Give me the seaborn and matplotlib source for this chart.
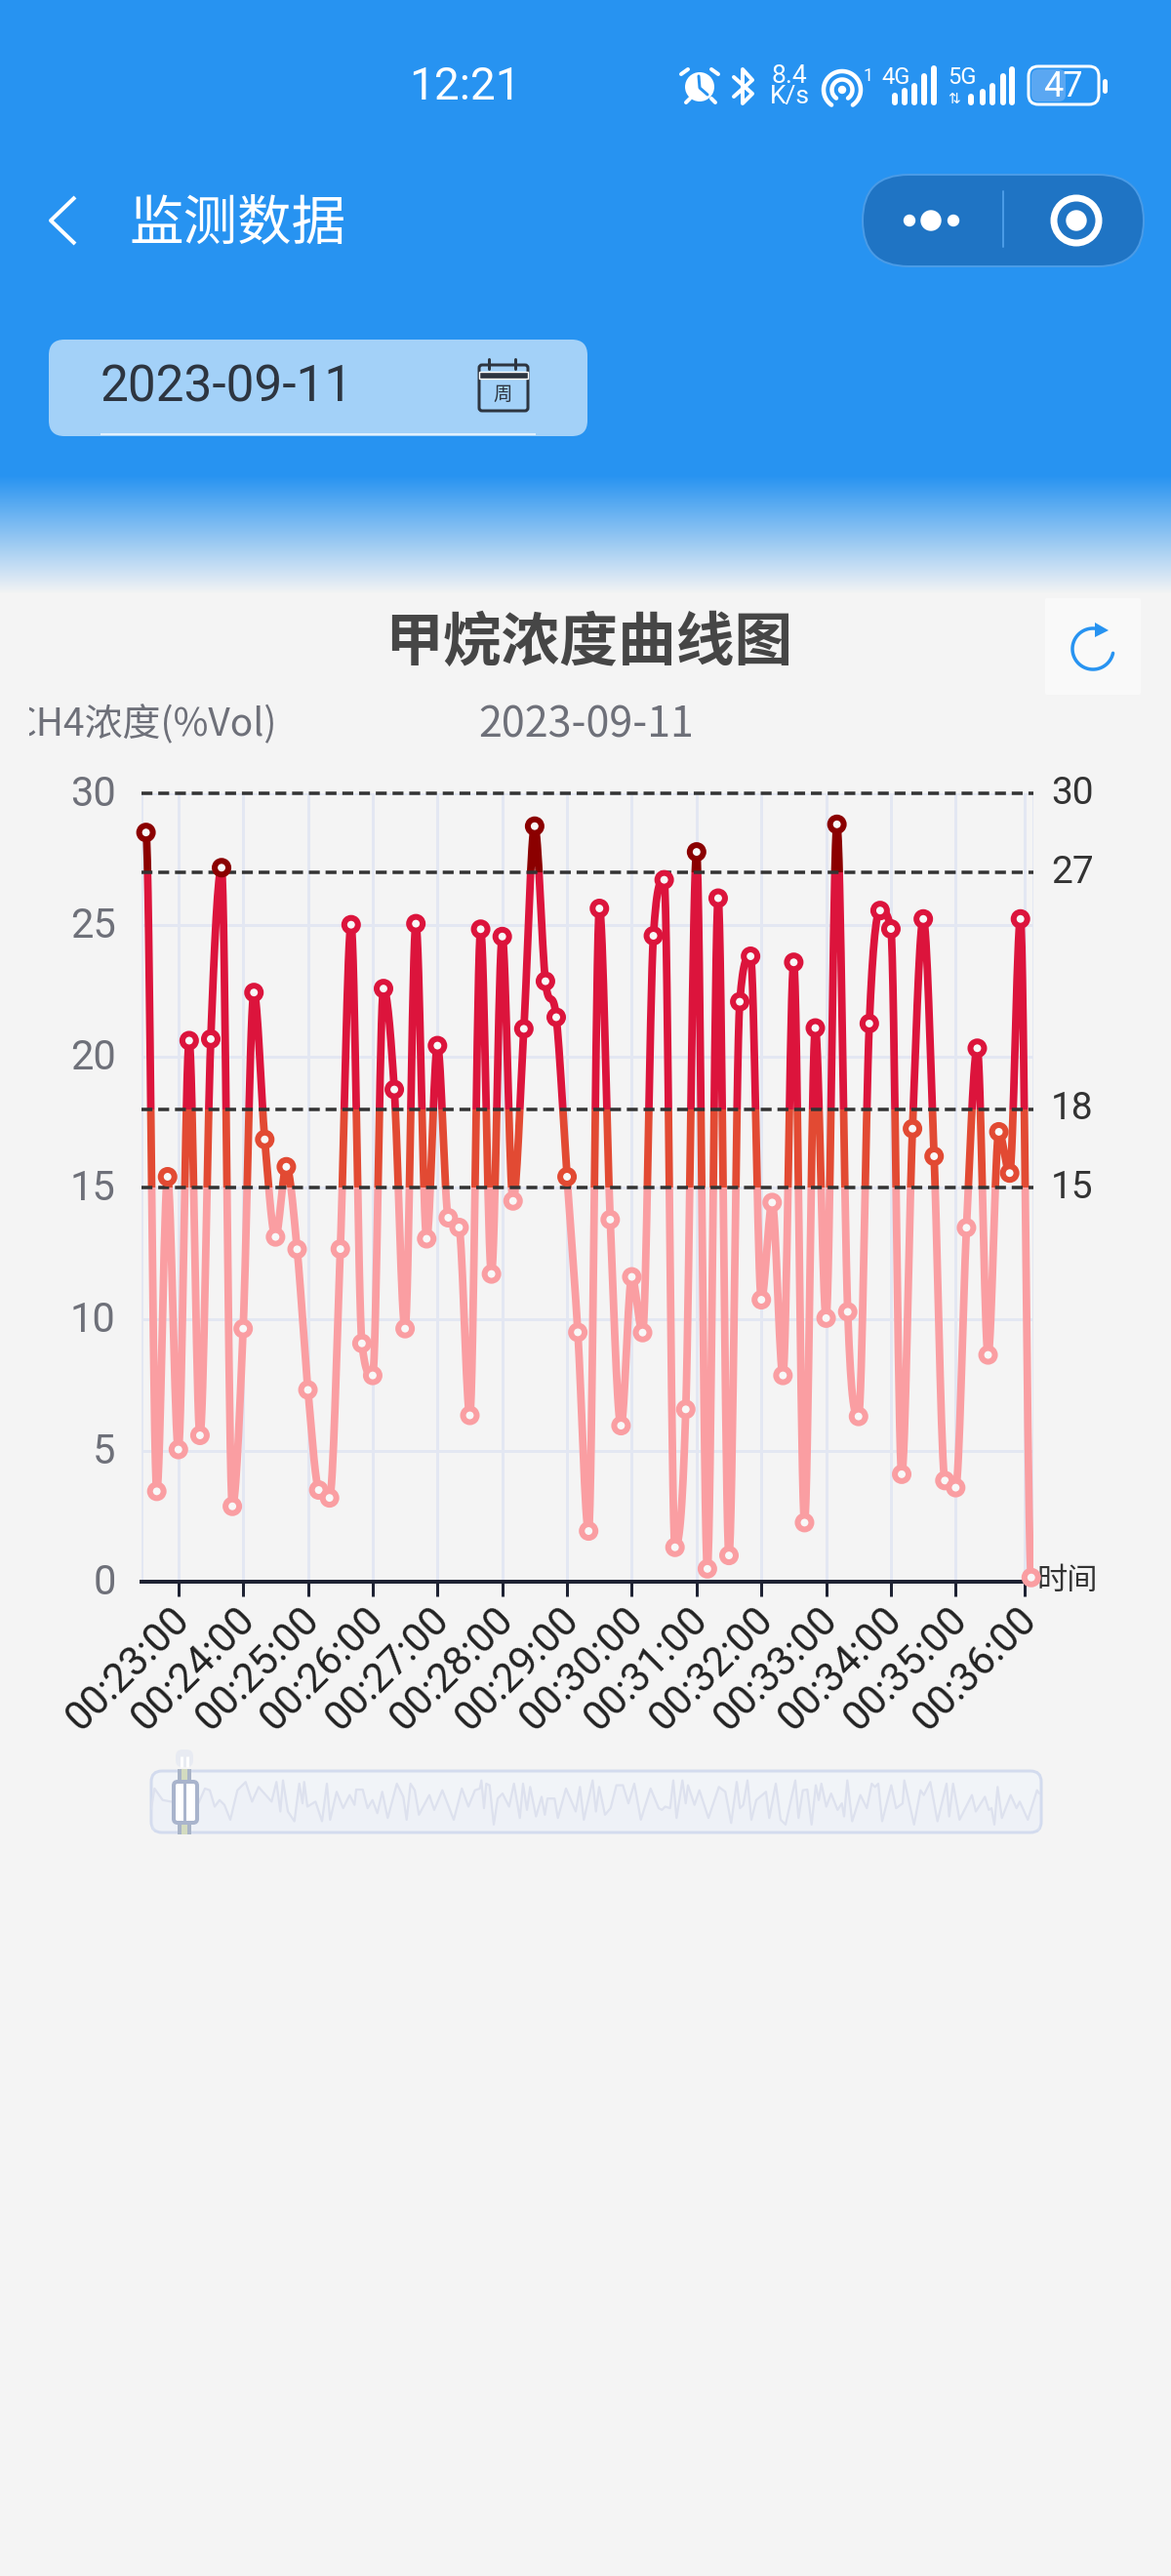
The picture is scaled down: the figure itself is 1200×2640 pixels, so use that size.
import numpy as np
import pandas as pd
import seaborn as sns
import matplotlib
matplotlib.use('Agg')
import matplotlib.pyplot as plt
from matplotlib.patches import Rectangle, FancyBboxPatch, Circle, Polygon
from matplotlib.transforms import ScaledTranslation

# gas readings, one per sample
ch4_values = [28.52, 3.45, 15.42, 5.04, 20.6, 5.58, 20.66, 27.18, 2.88, 9.64,
              22.43, 16.84, 13.13, 15.8, 12.66, 7.31, 3.5, 3.2, 12.67, 25.01,
              9.08, 7.86, 22.58, 18.74, 9.64, 25.05, 13.06, 20.41, 13.86, 13.49,
              6.34, 24.84, 11.72, 24.56, 14.5, 21.05, 28.76, 22.86, 21.49, 15.42,
              9.5, 1.94, 25.63, 13.79, 5.95, 11.61, 9.49, 24.59, 26.72, 1.32,
              6.57, 27.78, 0.5, 26.02, 1.01, 22.08, 23.81, 10.74, 14.44, 7.86,
              23.58, 2.26, 21.08, 10.04, 28.83, 10.28, 6.3, 21.25, 25.55, 24.85,
              4.1, 17.25, 25.23, 16.2, 3.86, 3.59, 13.48, 20.31, 8.64, 17.13,
              15.56, 25.23, 0.17]
time_labels = ['00:%d:00' % m for m in range(23, 37)]
tick_index = [3, 9, 15, 21, 27, 33, 39, 45, 51, 57, 63, 69, 75, 81.4]
thresholds = [15, 18, 27, 30]
band_names = ['low', 'mid', 'high', 'top']
band_colors = ['#fa9ea2', '#e24a33', '#dc143c', '#8b0000']

# whole-day overview in the slider
overview_t = [0, 3.3, 11.7, 20, 48.3, 55, 60, 65, 70, 75, 81, 88.3, 96.7, 103.3, 110, 123.3,
              128.3, 132.3, 135, 140, 146.7, 151.7, 155, 156.7, 160, 168.3, 175, 180, 183.3,
              190, 196.7, 203.3, 208.3, 210, 216.7, 221.7, 226.7, 231.7, 236.7, 242.3, 251.7,
              258.3, 261.7, 265.7, 270, 274.3, 285, 290, 298.3, 310, 318.3, 325, 331.7, 336.7,
              338.3, 341, 343.3, 346.7, 351, 355, 360, 366.7, 371.7, 377.7, 381, 385, 388.3,
              394.3, 400, 403.3, 406, 413.3, 416.7, 425, 435, 439.3, 443.3, 452.3, 455.7, 459,
              465, 470.7, 476.7, 483.3, 489, 495, 501.7, 511.7, 520, 523.3, 526.7, 531.7, 535,
              538.3, 544.3, 547.7, 550, 556.7, 561.7, 571, 581.7, 588.3, 594.3, 600, 603.3,
              606.7, 611, 615, 620, 630, 633.3, 640, 645, 650, 660, 663.3, 667.7, 672.3, 676.7,
              681, 684, 686.7, 691.7, 696.7, 703.3, 707.7, 710, 713.3, 718.3, 726.7, 733.3,
              738.3, 741.7, 745, 749, 758.3, 763.3, 770, 771.7, 781.7, 788.3, 791.7, 798.3,
              805.7, 815, 817.7, 821.7, 828.3, 841, 845, 854.3, 858.3, 861, 864, 867.3, 871.7,
              880.7, 886.7, 890, 898.3, 907.7, 910]
overview_v = [12, 23.8, 17.1, 16.2, 15.2, 23.8, 22.8, 13.3, 17.1, 14.3, 5.7, 22.8, 27.6, 16.2, 24.7, 16.2,
              27.6, 10.5, 28.5, 10.5, 4.8, 26.6, 15.2, 27.6, 13.3, 16.2, 4.8, 26.6, 5.7,
              21.9, 12.4, 20, 14.3, 23.2, 23.2, 12.4, 17.1, 9.5, 21.9, 6.7, 26.6,
              19, 5.7, 26.6, 22.8, 8.6, 20, 11.4, 22.8, 5.7, 23.8, 13.3, 22.8, 23.8,
              28.5, 12.4, 26.6, 25.7, 2.9, 18, 20.9, 13.3, 26.6, 6.7, 26.6, 11.4, 24.7,
              7.6, 19, 8.6, 18, 18, 6.7, 23.8, 10.5, 24.7, 5.7, 28.5, 10.5, 24.7,
              8.6, 12.4, 25.7, 25.7, 15.2, 26.6, 5.7, 23.8, 12.4, 11.4, 13.3, 12.4, 28.5,
              6.7, 28.5, 15.2, 25.7, 14.3, 22.8, 6.7, 24.7, 21.9, 3.8, 27.6, 12.4,
              14.3, 28.5, 5.7, 17.1, 21.9, 6.7, 26.6, 5.7, 2.9, 28.5, 6.7, 22.8, 23.2, 2.9,
              25.7, 17.1, 26.6, 13.3, 20.9, 11.4, 15.2, 7.6, 28.5, 4.8, 20, 12.4,
              26.6, 24.7, 26.6, 4.8, 25.7, 12.4, 15.2, 28.5, 2.9, 22.8, 20, 27.6,
              4.8, 26.6, 7.6, 26.6, 5.7, 20, 10.5, 19, 11.4, 12.4, 2.9, 24.7, 6.7,
              20, 12.4, 16.2, 5.7, 22.8, 20.9]

BLUE = '#2793f1'
BG = '#f4f4f4'
GREY = '#6e7079'
W, H = 1200, 2640

sns.set_theme(style='white', rc={'figure.facecolor': BG, 'axes.facecolor': 'none'})
plt.rcParams['font.family'] = ['Noto Sans CJK SC', 'DejaVu Sans']
PX = 72 / 100  # points per pixel at dpi 100

fig = plt.figure(figsize=(W / 100, H / 100), dpi=100)


def px_axes(left, top, right, bottom, z=1):
    a = fig.add_axes([left / W, 1 - bottom / H, (right - left) / W, (bottom - top) / H], zorder=z)
    a.patch.set_alpha(0)
    return a


def rounded(a, x0, y0, x1, y1, r, fc, ec='none', lw=0, z=2):
    p = FancyBboxPatch((x0 + r, y0 + r), x1 - x0 - 2 * r, y1 - y0 - 2 * r,
                       boxstyle='round,pad=%f,rounding_size=%f' % (r, r),
                       fc=fc, ec=ec, lw=lw * PX, zorder=z)
    a.add_patch(p)


def stroke(a, pts, color='white', lw=3, z=3, cap='round'):
    pts = np.array(pts, dtype=float)
    a.plot(pts[:, 0], pts[:, 1], color=color, lw=lw * PX, zorder=z, solid_capstyle=cap,
           solid_joinstyle='round')


def arc(a, cx, cy, r, t0, t1, color='white', lw=3, z=3):
    t = np.radians(np.linspace(t0, t1, 80))
    stroke(a, np.c_[cx + r * np.cos(t), cy + r * np.sin(t)], color, lw, z)


def nudge(label, dx, dy):
    # move a tick label by some pixels, y up
    label.set_transform(label.get_transform() + ScaledTranslation(dx / 100, dy / 100, fig.dpi_scale_trans))


# chrome layer in pixel coordinates
bg = px_axes(0, 0, W, H, 0)
bg.set_xlim(0, W)
bg.set_ylim(H, 0)
bg.axis('off')
bg.add_patch(Rectangle((0, 0), W, 487, fc=BLUE, ec='none', zorder=1))
blue_rgb = np.array(matplotlib.colors.to_rgb(BLUE))
bg_rgb = np.array(matplotlib.colors.to_rgb(BG))
ramp = np.linspace(0, 1, 122)[:, None, None]
grad = blue_rgb[None, None, :] * (1 - ramp) + bg_rgb[None, None, :] * ramp
bg.imshow(grad, extent=(0, W, 609, 487), aspect='auto', zorder=1)
bg.set_xlim(0, W)
bg.set_ylim(H, 0)

# status bar
bg.text(476, 89, '12:21', color='white', fontsize=33, family='Roboto', ha='center', va='center', zorder=3)
bg.add_patch(Circle((717, 89), 15, fc='white', ec='none', zorder=3))
stroke(bg, [(716, 78), (717, 90), (725, 97)], BLUE, 3, 4)
stroke(bg, [(698, 76), (705, 71)], 'white', 4)
stroke(bg, [(736, 76), (729, 71)], 'white', 4)
stroke(bg, [(703, 105), (707, 101)], 'white', 4)
stroke(bg, [(733, 105), (729, 101)], 'white', 4)
stroke(bg, [(752, 79), (771, 96), (761, 106), (761, 71), (771, 82), (752, 99)], 'white', 4)
bg.text(809, 78, '8.4', color='white', fontsize=19, family='Roboto', ha='center', va='center', zorder=3)
bg.text(809, 99, 'K/s', color='white', fontsize=19, family='Roboto', ha='center', va='center', zorder=3)
arc(bg, 863, 92, 19, 125, 415, lw=4.5)
arc(bg, 863, 92, 10.5, 125, 415, lw=4.5)
bg.add_patch(Circle((863, 92), 3.5, fc='white', zorder=3))
bg.text(890, 78, '1', color='white', fontsize=13, family='Roboto', ha='center', va='center', zorder=3)
bg.text(918, 79, '4G', color='white', fontsize=17, family='Roboto', ha='center', va='center', zorder=3)
bg.text(986, 79, '5G', color='white', fontsize=17, family='Roboto', ha='center', va='center', zorder=3)
bg.text(978, 101, '⇅', color='white', fontsize=11, family='DejaVu Sans', ha='center', va='center', zorder=3)
for x, top_y in zip([917, 927, 937, 947, 957], [98, 93, 88, 78, 70]):
    stroke(bg, [(x, top_y), (x, 105)], 'white', 6)
for x, top_y in zip([995, 1007, 1017, 1028, 1037], [99, 94, 88, 78, 71]):
    stroke(bg, [(x, top_y), (x, 105)], 'white', 6)
rounded(bg, 1054, 68, 1126, 107, 10, 'none', 'white', 3, 3)
rounded(bg, 1057, 71, 1092, 104, 7, '#5aa7f2', z=2)
bg.text(1089, 89, '47', color='white', fontsize=26, family='Roboto', ha='center', va='center', zorder=3)
stroke(bg, [(1132, 83), (1132, 93)], 'white', 5)

# nav bar
stroke(bg, [(77, 202), (52, 226), (77, 250)], 'white', 4, cap='butt')
bg.text(243, 230, '监测数据', color='white', fontsize=40, ha='center', va='center', zorder=3)
rounded(bg, 884, 179, 1172, 273, 47, '#1f74c4', '#4a9be6', 2, 2)
bg.add_patch(Circle((954, 226), 10, fc='white', zorder=3))
bg.add_patch(Circle((932, 226), 5.5, fc='white', zorder=3))
bg.add_patch(Circle((977, 226), 5.5, fc='white', zorder=3))
stroke(bg, [(1028, 196), (1028, 253)], '#4a9be6', 2)
bg.add_patch(Circle((1103, 226), 23, fc='none', ec='white', lw=7 * PX, zorder=3))
bg.add_patch(Circle((1103, 226), 10, fc='white', zorder=3))

# date picker
rounded(bg, 50, 348, 602, 447, 16, '#a3d1f8')
stroke(bg, [(103, 445), (549, 445)], '#e2f1fd', 2, cap='butt')
bg.text(232, 397, '2023-09-11', color='#2d3540', fontsize=37, ha='center', va='center', zorder=3, family='Roboto')
rounded(bg, 491, 374, 541, 421, 3, 'none', '#2d3540', 3, 3)
bg.add_patch(Rectangle((491, 381), 50, 7, fc='#2d3540', zorder=3))
stroke(bg, [(501, 368), (501, 378)], '#2d3540', 3)
stroke(bg, [(528, 368), (528, 378)], '#2d3540', 3)
bg.text(515, 404, '周', color='#2d3540', fontsize=14, ha='center', va='center', zorder=3)

# chart headings
bg.text(603, 660, '甲烷浓度曲线图', color='#464646', fontsize=43, fontweight='bold', ha='center', va='center', zorder=3)
name = bg.text(284, 743, 'CH4浓度(%Vol)', color=GREY, fontsize=28, ha='right', va='center', zorder=3)
name.set_clip_on(True)
name.set_clip_path(Rectangle((30, 700), 300, 80, transform=bg.transData))
bg.text(601, 743, '2023-09-11', color=GREY, fontsize=31, ha='center', va='center', zorder=3)

# refresh button
rounded(bg, 1071, 613, 1169, 712, 2, '#f9f9f9')
arc(bg, 1120, 665, 21, -85, -348, BLUE, 3.5)
bg.add_patch(Polygon([(1122, 638), (1136, 646), (1122, 653)], fc=BLUE, ec='none', zorder=3))

# main chart
ax = px_axes(145, 813.3, 1059, 1621.3, 2)
xs = np.arange(len(ch4_values))
ys = np.array(ch4_values)
x_min, x_max = -0.416, 82.2
ax.set_xlim(x_min, x_max)
ax.set_ylim(0, 30)

# smooth line through the readings (cubic hermite, flat at turning points)
slopes = np.diff(ys)
tang = np.zeros_like(ys)
for i in range(1, len(ys) - 1):
    if slopes[i - 1] * slopes[i] > 0:
        limit = 3 * min(abs(slopes[i - 1]), abs(slopes[i]))
        tang[i] = np.sign(slopes[i]) * min(abs(slopes[i - 1] + slopes[i]) / 2, limit)
u = np.linspace(0, 1, 16, endpoint=False)
curve_x, curve_y = [], []
for i in range(len(ys) - 1):
    h00 = 2 * u**3 - 3 * u**2 + 1
    h10 = u**3 - 2 * u**2 + u
    h01 = -2 * u**3 + 3 * u**2
    h11 = u**3 - u**2
    curve_x.extend(xs[i] + u)
    curve_y.extend(h00 * ys[i] + h10 * tang[i] + h01 * ys[i + 1] + h11 * tang[i + 1])
curve_x.append(xs[-1])
curve_y.append(ys[-1])

ax.set_yticks(range(0, 31, 5))
ax.set_xticks(tick_index, time_labels)
ax.grid(True, color='#e3e7f2', lw=3 * PX)
ax.set_axisbelow(True)
for xv in [x_min, x_max]:
    ax.axvline(xv, color='#e3e7f2', lw=3 * PX, zorder=0.5)
sns.despine(ax=ax, left=True, right=True, top=True)
ax.spines['bottom'].set_color('#1e2233')
ax.spines['bottom'].set_linewidth(4 * PX)
ax.tick_params(axis='y', length=0, pad=19, labelsize=30, labelcolor=GREY)
ax.tick_params(axis='x', length=15 * PX, width=3 * PX, color='#1e2233', pad=4,
               labelsize=30, labelcolor='#222222', bottom=True)
for lab in ax.get_xticklabels():
    lab.set_rotation(45)
    lab.set_ha('right')
    lab.set_rotation_mode('anchor')
    lab.set_family('Roboto')
    nudge(lab, -9, 3)
for lab in ax.get_yticklabels():
    lab.set_family('Roboto')
    nudge(lab, 0, 3)

edges = [0] + thresholds
for k, (lo, hi) in enumerate(zip(edges[:-1], edges[1:])):
    sns.lineplot(x=curve_x, y=curve_y, color=band_colors[k], lw=5.6, sort=False, estimator=None,
                 ax=ax, zorder=3, legend=False)
    line = ax.lines[-1]
    line.set_clip_path(Rectangle((x_min, lo), x_max - x_min, hi - lo, transform=ax.transData))
    line.set_solid_joinstyle('round')

for level in thresholds:
    ax.axhline(level, color='#333333', lw=3.5 * PX, dashes=(3.2, 1.7), zorder=4, clip_on=False)
    ax.text(1.0197, level, str(level), transform=ax.get_yaxis_transform(), fontsize=28,
            family='Roboto', color='#333333', ha='left', va='center')

df = pd.DataFrame({'x': xs, 'y': ys})
df['band'] = pd.cut(df['y'], [-1] + thresholds, labels=band_names, right=False).astype(str)
sns.scatterplot(data=df, x='x', y='y', hue='band', palette=dict(zip(band_names, band_colors)),
                s=(14 * PX)**2, facecolor='#f8f8f8', linewidth=6 * PX, ax=ax, zorder=5,
                clip_on=False, legend=False)
# seaborn hue colours go to the faces, move them to the edges to get rings
pts = ax.collections[-1]
pts.set_edgecolor(pts.get_facecolor())
pts.set_facecolor('#f8f8f8')
ax.set_xlabel('')
ax.set_ylabel('')
bg.text(1094, 1620, '时间', color='#333333', fontsize=22.5, ha='center', va='center', zorder=3)

# data zoom slider
rounded(bg, 155, 1815, 1067, 1878, 11, '#f1f4f8', '#d3dbee', 3)
spark = px_axes(155, 1822, 1067, 1875, 3)
spark.set_xlim(0, 912)
spark.set_ylim(0, 30)
spark.fill_between(overview_t, overview_v, color='#e8ecf6', lw=0, alpha=0.3)
sns.lineplot(x=overview_t, y=overview_v, color='#dde1ee', lw=1.6, sort=False, estimator=None, ax=spark)
spark.set_xlabel('')
spark.set_ylabel('')
spark.axis('off')

top = px_axes(0, 0, W, H, 4)
top.set_xlim(0, W)
top.set_ylim(H, 0)
top.axis('off')
top.add_patch(Rectangle((184, 1813), 10, 67, fc='#d3dbc0', ec='none', zorder=1))
stroke(top, [(184, 1813), (184, 1880)], '#a9b4c8', 4, 2, 'butt')
stroke(top, [(194, 1813), (194, 1880)], '#a9b4c8', 4, 2, 'butt')
rounded(top, 180, 1793, 198, 1811, 7, '#e8ebf2', z=1)
stroke(top, [(186, 1800), (186, 1811)], 'white', 3, 2, 'butt')
stroke(top, [(192, 1800), (192, 1811)], 'white', 3, 2, 'butt')
rounded(top, 178, 1826, 202, 1868, 4, 'white', '#a9b4cc', 4, 3)
stroke(top, [(189, 1826), (189, 1868)], '#a9b4cc', 3, 4, 'butt')

fig.savefig('out.png', dpi=100, facecolor=BG)
